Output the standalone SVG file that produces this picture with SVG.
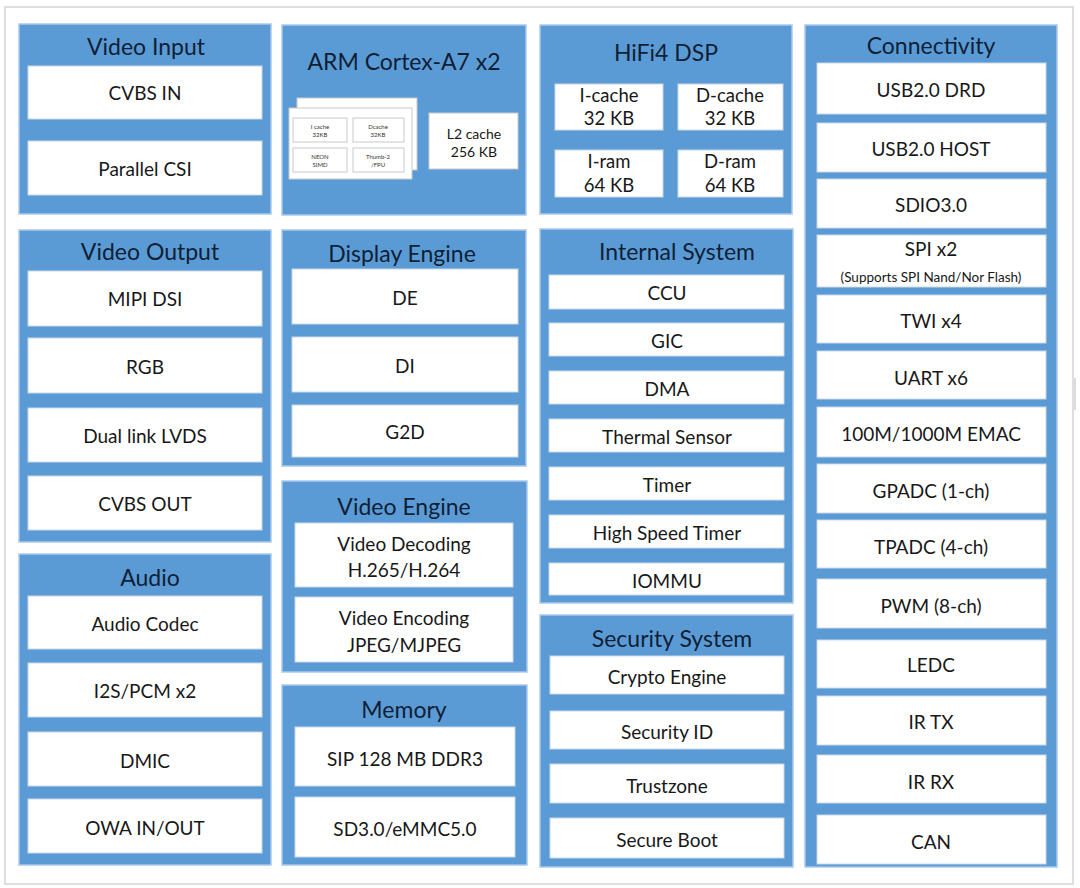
<svg xmlns="http://www.w3.org/2000/svg" width="1080" height="888" viewBox="0 0 1080 888">
<style>
.pan{fill:#5b9bd5;stroke:#a9c9ea;stroke-width:1.5}
.box{fill:#ffffff;stroke:#c9d6e3;stroke-width:1}
.t{font-family:Lato,"Open Sans",sans-serif;font-size:23px;fill:#0f1f36;text-anchor:middle;dominant-baseline:central}
.i{font-family:Lato,"Open Sans",sans-serif;font-size:19px;fill:#181818;text-anchor:middle;dominant-baseline:central}
.h{font-family:Lato,"Open Sans",sans-serif;font-size:18.5px;fill:#181818;text-anchor:middle;dominant-baseline:central}
.s{font-family:Lato,"Open Sans",sans-serif;font-size:13.5px;fill:#181818;text-anchor:middle;dominant-baseline:central}
.m{font-family:Lato,"Open Sans",sans-serif;font-size:6px;fill:#333;text-anchor:middle;dominant-baseline:central}
.sb{fill:#ffffff;stroke:#c9c9c9;stroke-width:1}
</style>
<rect width="1080" height="888" fill="#ffffff"/>
<rect x="5" y="7" width="1068" height="877" fill="none" stroke="#d4d4d4" stroke-width="1.5"/>
<line x1="1075" y1="378" x2="1075" y2="410" stroke="#d0d0d0" stroke-width="1.5"/>

<g id="video-input">
<rect class="pan" x="19" y="24" width="252" height="190"/>
<text class="t" x="146" y="46">Video Input</text>
<rect class="box" x="28" y="66" width="234" height="53"/><text class="i" x="145" y="92">CVBS IN</text>
<rect class="box" x="28" y="141" width="234" height="54"/><text class="i" x="145" y="168">Parallel CSI</text>
</g>

<g id="video-output">
<rect class="pan" x="19" y="230" width="252" height="312"/>
<text class="t" x="150" y="251">Video Output</text>
<rect class="box" x="28" y="271" width="234" height="55"/><text class="i" x="145" y="298">MIPI DSI</text>
<rect class="box" x="28" y="338" width="234" height="55"/><text class="i" x="145" y="366">RGB</text>
<rect class="box" x="28" y="408" width="234" height="54"/><text class="i" x="145" y="435">Dual link LVDS</text>
<rect class="box" x="28" y="476" width="234" height="54"/><text class="i" x="145" y="503">CVBS OUT</text>
</g>

<g id="audio">
<rect class="pan" x="19" y="554" width="252" height="311"/>
<text class="t" x="150" y="577">Audio</text>
<rect class="box" x="28" y="596" width="234" height="53"/><text class="i" x="145" y="623">Audio Codec</text>
<rect class="box" x="28" y="663" width="234" height="54"/><text class="i" x="145" y="690">I2S/PCM x2</text>
<rect class="box" x="28" y="732" width="234" height="54"/><text class="i" x="145" y="760">DMIC</text>
<rect class="box" x="28" y="799" width="234" height="54"/><text class="i" x="145" y="827">OWA IN/OUT</text>
</g>

<g id="arm">
<rect class="pan" x="282" y="25" width="244" height="190"/>
<text class="t" x="404" y="61">ARM Cortex-A7 x2</text>
<rect class="sb" x="297" y="98" width="120" height="72"/>
<rect class="sb" x="289" y="108" width="123" height="71"/>
<rect class="sb" x="293" y="118" width="54" height="24"/><text class="m" x="320" y="126">I cache</text><text class="m" x="320" y="134">32KB</text>
<rect class="sb" x="353" y="118" width="51" height="24"/><text class="m" x="378" y="126">Dcache</text><text class="m" x="378" y="134">32KB</text>
<rect class="sb" x="293" y="148" width="54" height="24"/><text class="m" x="320" y="156">NEON</text><text class="m" x="320" y="164">SIMD</text>
<rect class="sb" x="353" y="148" width="51" height="24"/><text class="m" x="378" y="156">Thumb-2</text><text class="m" x="378" y="164">/FPU</text>
<rect class="sb" x="429" y="113" width="89" height="56"/>
<text class="i" x="474" y="133" style="font-size:14px">L2 cache</text>
<text class="i" x="474" y="151" style="font-size:14px">256 KB</text>
</g>

<g id="display-engine">
<rect class="pan" x="282" y="230" width="244" height="236"/>
<text class="t" x="402" y="253">Display Engine</text>
<rect class="box" x="292" y="269" width="226" height="55"/><text class="i" x="405" y="297">DE</text>
<rect class="box" x="292" y="337" width="226" height="55"/><text class="i" x="405" y="365">DI</text>
<rect class="box" x="292" y="405" width="226" height="52"/><text class="i" x="405" y="431">G2D</text>
</g>

<g id="video-engine">
<rect class="pan" x="282" y="481" width="245" height="191"/>
<text class="t" x="404" y="506">Video Engine</text>
<rect class="box" x="295" y="523" width="218" height="64"/>
<text class="i" x="404" y="543">Video Decoding</text><text class="i" x="404" y="569">H.265/H.264</text>
<rect class="box" x="295" y="597" width="218" height="65"/>
<text class="i" x="404" y="617">Video Encoding</text><text class="i" x="404" y="644">JPEG/MJPEG</text>
</g>

<g id="memory">
<rect class="pan" x="282" y="685" width="245" height="180"/>
<text class="t" x="404" y="709">Memory</text>
<rect class="box" x="295" y="727" width="220" height="59"/><text class="i" x="405" y="758">SIP 128 MB DDR3</text>
<rect class="box" x="295" y="797" width="220" height="60"/><text class="i" x="405" y="828">SD3.0/eMMC5.0</text>
</g>

<g id="hifi4">
<rect class="pan" x="540" y="25" width="252" height="189"/>
<text class="t" x="666" y="52">HiFi4 DSP</text>
<rect class="box" x="555" y="84" width="108" height="46"/>
<text class="h" x="609" y="95">I-cache</text><text class="h" x="609" y="118">32 KB</text>
<rect class="box" x="678" y="84" width="105" height="46"/>
<text class="h" x="730" y="95">D-cache</text><text class="h" x="730" y="118">32 KB</text>
<rect class="box" x="555" y="150" width="108" height="47"/>
<text class="h" x="609" y="161">I-ram</text><text class="h" x="609" y="185">64 KB</text>
<rect class="box" x="678" y="150" width="105" height="47"/>
<text class="h" x="730" y="161">D-ram</text><text class="h" x="730" y="185">64 KB</text>
</g>

<g id="internal-system">
<rect class="pan" x="540" y="229" width="253" height="374"/>
<text class="t" x="677" y="251">Internal System</text>
<rect class="box" x="549" y="275" width="235" height="34"/><text class="i" x="667" y="292">CCU</text>
<rect class="box" x="549" y="323" width="235" height="33"/><text class="i" x="667" y="340">GIC</text>
<rect class="box" x="549" y="371" width="235" height="33"/><text class="i" x="667" y="388">DMA</text>
<rect class="box" x="549" y="419" width="235" height="33"/><text class="i" x="667" y="436">Thermal Sensor</text>
<rect class="box" x="549" y="467" width="235" height="33"/><text class="i" x="667" y="484">Timer</text>
<rect class="box" x="549" y="515" width="235" height="33"/><text class="i" x="667" y="532">High Speed Timer</text>
<rect class="box" x="549" y="563" width="235" height="32"/><text class="i" x="667" y="580">IOMMU</text>
</g>

<g id="security-system">
<rect class="pan" x="540" y="615" width="253" height="252"/>
<text class="t" x="672" y="638">Security System</text>
<rect class="box" x="550" y="656" width="234" height="38"/><text class="i" x="667" y="676">Crypto Engine</text>
<rect class="box" x="550" y="711" width="234" height="38"/><text class="i" x="667" y="731">Security ID</text>
<rect class="box" x="550" y="764" width="234" height="39"/><text class="i" x="667" y="785">Trustzone</text>
<rect class="box" x="550" y="818" width="234" height="40"/><text class="i" x="667" y="839">Secure Boot</text>
</g>

<g id="connectivity">
<rect class="pan" x="805" y="25" width="252" height="842"/>
<text class="t" x="931" y="45">Connectivity</text>
<rect class="box" x="817" y="63" width="229" height="51"/><text class="i" x="931" y="89">USB2.0 DRD</text>
<rect class="box" x="817" y="123" width="229" height="49"/><text class="i" x="931" y="148">USB2.0 HOST</text>
<rect class="box" x="817" y="179" width="229" height="49"/><text class="i" x="931" y="204">SDIO3.0</text>
<rect class="box" x="817" y="235" width="229" height="52"/><text class="i" x="931" y="248">SPI x2</text>
<text class="s" x="931" y="277">(Supports SPI Nand/Nor Flash)</text>
<rect class="box" x="817" y="295" width="229" height="48"/><text class="i" x="931" y="320">TWI x4</text>
<rect class="box" x="817" y="351" width="229" height="48"/><text class="i" x="931" y="377">UART x6</text>
<rect class="box" x="817" y="407" width="229" height="50"/><text class="i" x="931" y="433">100M/1000M EMAC</text>
<rect class="box" x="817" y="464" width="229" height="49"/><text class="i" x="931" y="490">GPADC (1-ch)</text>
<rect class="box" x="817" y="520" width="229" height="48"/><text class="i" x="931" y="546">TPADC (4-ch)</text>
<rect class="box" x="817" y="579" width="229" height="49"/><text class="i" x="931" y="605">PWM (8-ch)</text>
<rect class="box" x="817" y="640" width="229" height="48"/><text class="i" x="931" y="664">LEDC</text>
<rect class="box" x="817" y="696" width="229" height="49"/><text class="i" x="931" y="721">IR TX</text>
<rect class="box" x="817" y="755" width="229" height="48"/><text class="i" x="931" y="781">IR RX</text>
<rect class="box" x="817" y="815" width="229" height="49"/><text class="i" x="931" y="841">CAN</text>
</g>
</svg>
